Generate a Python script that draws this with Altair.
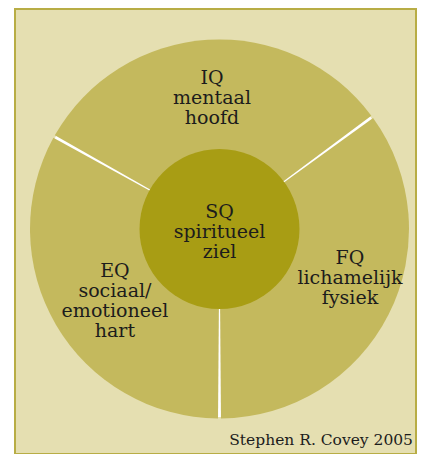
import math
import altair as alt
import pandas as pd

# ---- data ----
segment_names = ["FQ", "EQ", "IQ"]
segment_labels = ["FQ\nlichamelijk\nfysiek", "EQ\nsociaal/\nemotioneel\nhart", "IQ\nmentaal\nhoofd"]
segment_degrees = [126.3, 119.2, 114.5]
center_label = ["SQ\nspiritueel\nziel"]
credit_text = ["Stephen R. Covey 2005"]
start_degree = 53.7

seg = pd.DataFrame({
    "name": segment_names,
    "label": segment_labels,
    "deg": segment_degrees,
    "idx": list(range(len(segment_names))),
})
center_df = pd.DataFrame({"label": center_label})
credit_df = pd.DataFrame({"label": credit_text})
one = pd.DataFrame({"v": [1]})

start = math.radians(start_degree)
theta_scale = alt.Scale(domain=[0, 360], range=[start, start + 2 * math.pi])

W, H = 401, 445
CX, CY = 204.5, 220
R_OUT, R_IN = 189.5, 80
FONT = "DejaVu Serif"
FS = 19
LH = 20.3
TXT = "#1c1c1c"

underlay = alt.Chart(one).mark_arc(
    radius=R_OUT - 1.5, theta=0, theta2=2 * math.pi, fill="white"
).encode(x=alt.value(CX), y=alt.value(CY))

slices = alt.Chart(seg).mark_arc(
    radius=R_OUT, padAngle=0.0155, fill="#c4b95d"
).encode(
    theta=alt.Theta("deg:Q", stack=True, scale=theta_scale),
    order=alt.Order("idx:Q"),
    x=alt.value(CX), y=alt.value(CY),
)

inner = alt.Chart(one).mark_arc(
    radius=R_IN, theta=0, theta2=2 * math.pi, fill="#a89d14"
).encode(x=alt.value(CX), y=alt.value(CY))

text_base = alt.Chart(seg).transform_window(
    cum="sum(deg)", sort=[alt.SortField("idx")], frame=[None, 0]
).transform_calculate(mid="datum.cum - datum.deg / 2")

nudges = {"IQ": (0.7, -19.7), "FQ": (12.7, -31), "EQ": (9.3, -25.2)}
label_layers = []
for n in segment_names:
    dx, dy = nudges[n]
    label_layers.append(
        text_base.transform_filter(alt.datum.name == n).mark_text(
            radius=132, dx=dx, dy=dy, font=FONT, fontSize=FS, lineHeight=LH,
            lineBreak="\n", color=TXT, align="center", baseline="middle",
        ).encode(
            theta=alt.Theta("mid:Q", stack=False, scale=theta_scale),
            text="label:N",
            x=alt.value(CX), y=alt.value(CY),
        )
    )

center_text = alt.Chart(center_df).mark_text(
    dy=-17.5, font=FONT, fontSize=FS, lineHeight=LH, lineBreak="\n",
    color=TXT, align="center", baseline="middle",
).encode(text="label:N", x=alt.value(CX), y=alt.value(CY))

credit = alt.Chart(credit_df).mark_text(
    font=FONT, fontSize=15.5, color=TXT, align="right", baseline="alphabetic",
).encode(text="label:N", x=alt.value(W - 3), y=alt.value(H - 9))

chart = alt.layer(underlay, slices, inner, *label_layers, center_text, credit).properties(
    width=W, height=H,
    padding={"left": 7, "top": 1, "right": 1, "bottom": 0},
    autosize=alt.AutoSizeParams(type="none"),
).configure_view(fill="#e5dfb1", stroke="#b8ad45", strokeWidth=2)

chart.save("out.html", embed_options={"renderer": "svg", "actions": False})
